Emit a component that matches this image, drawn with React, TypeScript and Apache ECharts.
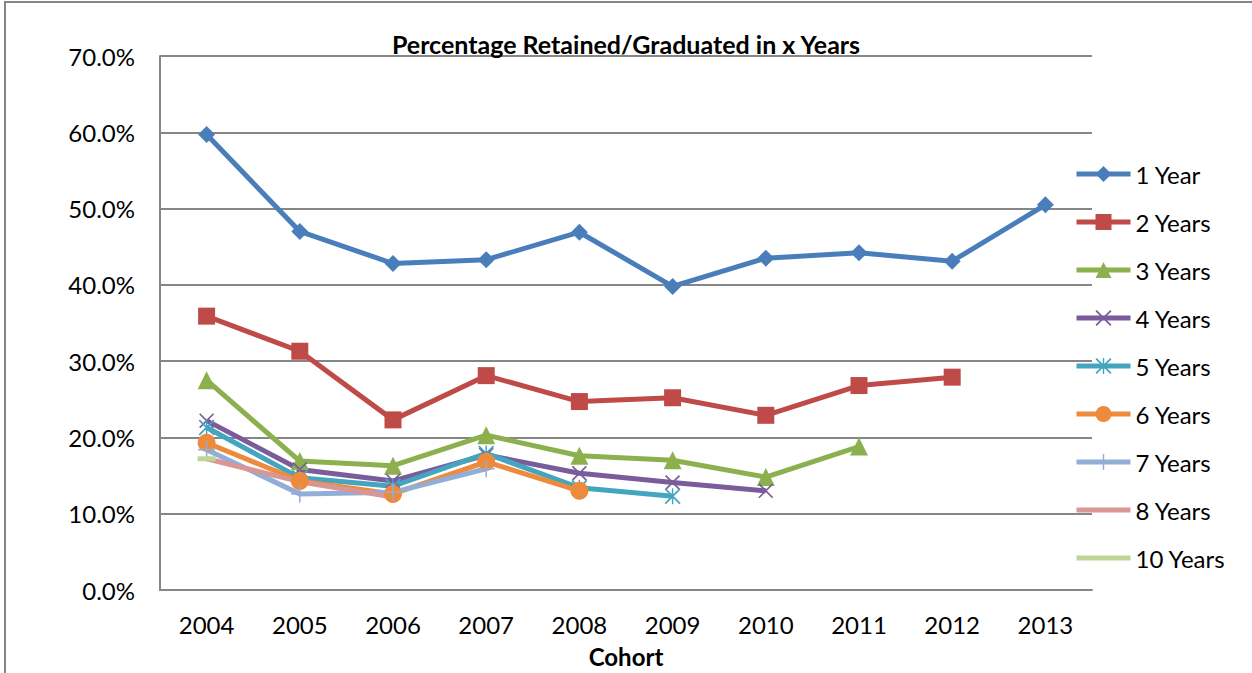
import React, { useEffect, useRef } from "react";
import * as echarts from "echarts";

const categories = ["2004", "2005", "2006", "2007", "2008", "2009", "2010", "2011", "2012", "2013"];
const seriesNames = ["1 Year", "2 Years", "3 Years", "4 Years", "5 Years", "6 Years", "7 Years", "8 Years", "10 Years"];
const year1 = [59.7, 47.0, 42.8, 43.3, 46.9, 39.8, 43.5, 44.2, 43.1, 50.5];
const year2 = [35.9, 31.3, 22.3, 28.1, 24.7, 25.2, 22.9, 26.8, 27.9, null];
const year3 = [27.5, 16.9, 16.3, 20.3, 17.6, 17.0, 14.8, 18.8, null, null];
const year4 = [22.2, 15.8, 14.3, 17.7, 15.3, 14.1, 13.0, null, null, null];
const year5 = [21.3, 14.7, 13.6, 17.9, 13.4, 12.3, null, null, null, null];
const year6 = [19.3, 14.3, 12.6, 16.8, 13.0, null, null, null, null, null];
const year7 = [18.4, 12.6, 12.8, 15.9, null, null, null, null, null, null];
const year8 = [17.2, 14.2, 12.2, null, null, null, null, null, null, null];
const year10 = [17.2, null, null, null, null, null, null, null, null, null];
const yTicks = { min: 0, max: 70, interval: 10 };

const colors = ["#4A7EBB", "#BE4B48", "#8DB04F", "#7A5C9C", "#44A5BF", "#EE8A3C", "#93AED6", "#D99694", "#BDD597"];

const X_PATH = "path://M0,0.8 L0.8,0 L10,9.2 L9.2,10 Z M9.2,0 L10,0.8 L0.8,10 L0,9.2 Z";
const STAR_PATH = X_PATH + " M4.55,0 L5.45,0 L5.45,10 L4.55,10 Z";
const PLUS_PATH = "path://M4.55,0 L5.45,0 L5.45,10 L4.55,10 Z M0,4.55 L10,4.55 L10,5.45 L0,5.45 Z";
const LINE_ICON = "path://M0,0 L54,0 L54,5 L0,5 Z";

export default function App() {
  const ref = useRef<HTMLDivElement>(null);
  useEffect(() => {
    document.body.style.margin = "0";
    const chart = echarts.init(ref.current!, null, { renderer: "svg" });
    const font = "Lato, 'Noto Sans', sans-serif";
    const data = [year1, year2, year3, year4, year5, year6, year7, year8, year10];
    const symbols: any[] = ["diamond", "rect", "triangle", X_PATH, STAR_PATH, "circle", PLUS_PATH, "none", "rect"];
    const sizes: any[] = [17, 17, 18, 15, 16, 18, 17, 0, [18, 5]];
    const series = seriesNames.map((name, i) => ({
      name,
      type: "line",
      data: data[i],
      symbol: symbols[i],
      symbolSize: sizes[i],
      showSymbol: symbols[i] !== "none",
      lineStyle: { color: colors[i], width: 5 },
      itemStyle: { color: colors[i] },
      emphasis: { disabled: true },
    }));
    chart.setOption({
      animation: false,
      color: colors,
      title: {
        text: "Percentage Retained/Graduated in x Years",
        left: "center",
        top: 26,
        textStyle: { fontFamily: font, fontSize: 25, fontWeight: "bold", color: "#000" },
      },
      grid: { left: 160, right: 160, top: 56, bottom: 81 },
      legend: {
        orient: "vertical",
        left: 1069,
        top: 157,
        itemWidth: 54,
        itemHeight: 20,
        itemGap: 24,
        lineStyle: { width: 5 },
        textStyle: { fontFamily: font, fontSize: 24, color: "#000", lineHeight: 24 },
        data: seriesNames.map((n, i) =>
          i >= 7 ? { name: n, icon: LINE_ICON } : { name: n }
        ),
      },
      xAxis: {
        type: "category",
        data: categories,
        boundaryGap: true,
        axisLine: { lineStyle: { color: "#868686", width: 2 } },
        axisTick: { show: false },
        axisLabel: { fontFamily: font, fontSize: 24, color: "#000", margin: 22 },
        name: "Cohort",
        nameLocation: "middle",
        nameGap: 54,
        nameTextStyle: { fontFamily: font, fontSize: 24, fontWeight: "bold", color: "#000" },
      },
      yAxis: {
        type: "value",
        min: yTicks.min,
        max: yTicks.max,
        interval: yTicks.interval,
        axisLine: { show: true, lineStyle: { color: "#868686", width: 2 } },
        axisTick: { show: false },
        splitLine: { lineStyle: { color: "#868686", width: 2 } },
        axisLabel: {
          fontFamily: font,
          fontSize: 24,
          color: "#000",
          margin: 25,
          formatter: (v: number) => v.toFixed(1) + "%",
        },
      },
      graphic: [
        {
          type: "rect",
          shape: { x: 5, y: 2, width: 1270, height: 700 },
          style: { fill: "none", stroke: "#868686", lineWidth: 2 },
          silent: true,
        },
      ],
      series,
    });
    return () => chart.dispose();
  }, []);
  return <div ref={ref} style={{ width: 1252, height: 673 }} />;
}
